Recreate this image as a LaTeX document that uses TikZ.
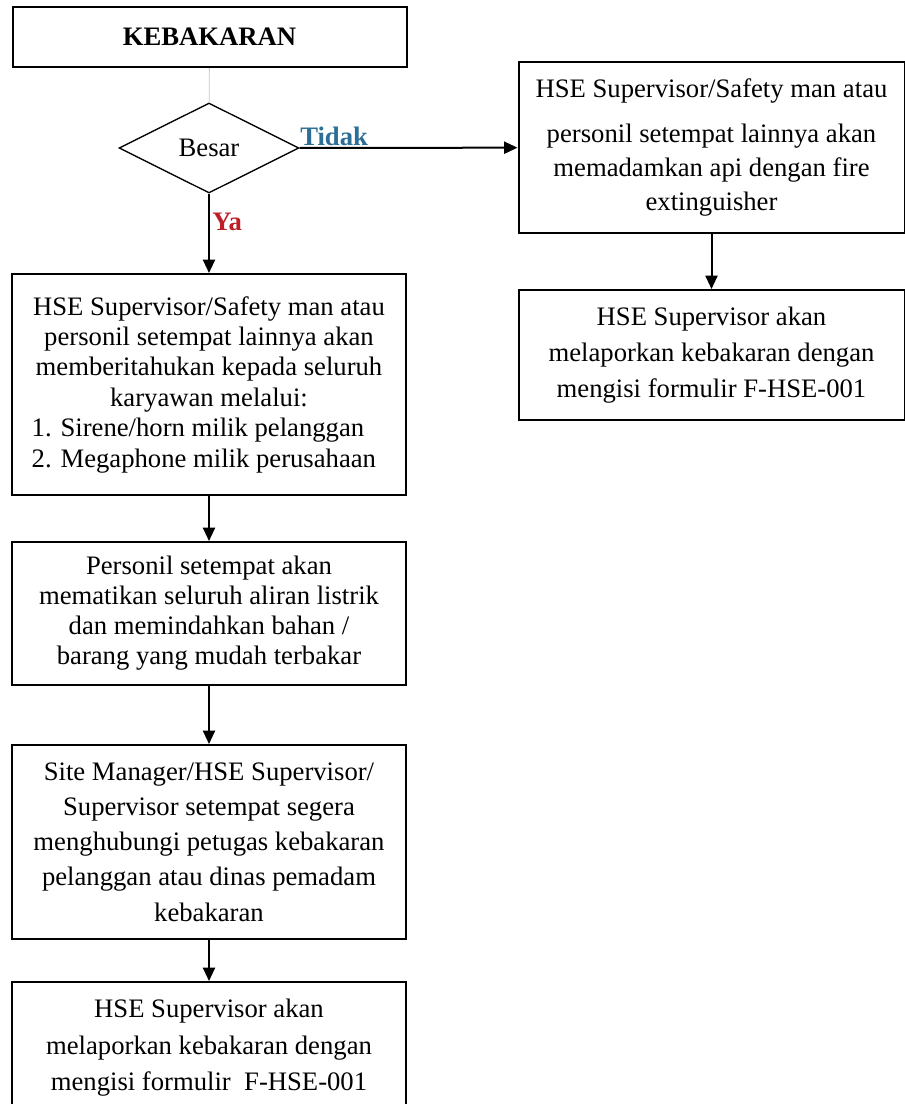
\documentclass[tikz,border=0pt]{standalone}
\usepackage{fontspec}
\setmainfont{Liberation Serif}
\usetikzlibrary{shapes.geometric,arrows.meta}
\definecolor{tidakblue}{RGB}{44,110,150}
\definecolor{yared}{RGB}{190,30,40}
\newcommand{\itemline}[1]{\makebox[266pt][l]{#1}}

\begin{document}
\begin{tikzpicture}[x=0.75pt, y=-0.75pt,
  box/.style={draw, line width=1.5pt, align=center, inner sep=0pt,
    minimum width=295.5pt, font=\fontsize{20}{#1}\selectfont},
  box/.default=23,
  label/.style={inner sep=0pt, font=\fontsize{20}{23}\selectfont\bfseries},
  arrow/.style={line width=1.5pt, -{Triangle[length=10pt,width=9pt]}}]
\useasboundingbox (0,0) rectangle (905,1104);
\node[box, minimum height=45pt] (kebakaran) at (209.5,37) {\textbf{KEBAKARAN}};
\node[diamond, draw, line width=1pt, inner sep=0pt, minimum width=135pt,
  minimum height=67.5pt, font=\fontsize{20}{23}\selectfont] (besar) at (209,148) {Besar};
\node[box=22.8, minimum height=165.75pt] (notify) at (209,384.5)
  {HSE Supervisor/Safety man atau\\ personil setempat lainnya akan\\
   memberitahukan kepada seluruh\\ karyawan melalui:\\
   \itemline{1. Sirene/horn milik pelanggan}\\ \itemline{2. Megaphone milik perusahaan}};
\node[box=22.5, minimum height=107.25pt] (cut) at (209,613.5)
  {Personil setempat akan\\ mematikan seluruh aliran listrik\\
   dan memindahkan bahan /\\ barang yang mudah terbakar};
\node[box=26.4, minimum height=145.5pt] (call) at (209,842)
  {Site Manager/HSE Supervisor/\\ Supervisor setempat segera\\
   menghubungi petugas kebakaran\\ pelanggan atau dinas pemadam\\ kebakaran};
\node[box=27.4, minimum height=99pt] (reportL) at (209,1048)
  {HSE Supervisor akan\\ melaporkan kebakaran dengan\\ mengisi formulir~~F-HSE-001};
\node[box=25.5, minimum width=289.5pt, minimum height=128.25pt] (extinguish) at (711.5,147.5)
  {HSE Supervisor/Safety man atau\\[8pt] personil setempat lainnya akan\\
   memadamkan api dengan fire\\ extinguisher};
\node[box=27, minimum width=289.5pt, minimum height=97.5pt] (reportR) at (711.5,355)
  {HSE Supervisor akan\\ melaporkan kebakaran dengan\\ mengisi formulir F-HSE-001};
\node[label, text=tidakblue, anchor=south west] (tidak) at (300,146) {Tidak};
\node[label, text=yared, anchor=west] (ya) at (212,222) {Ya};
\draw[gray!45, line width=0.6pt] (kebakaran) -- (besar);
\draw[arrow]
  (besar) edge (extinguish)
  (besar) edge (notify)
  (notify) edge (cut)
  (cut) edge (call)
  (call) edge (reportL)
  (extinguish) edge (reportR);
\end{tikzpicture}
\end{document}
